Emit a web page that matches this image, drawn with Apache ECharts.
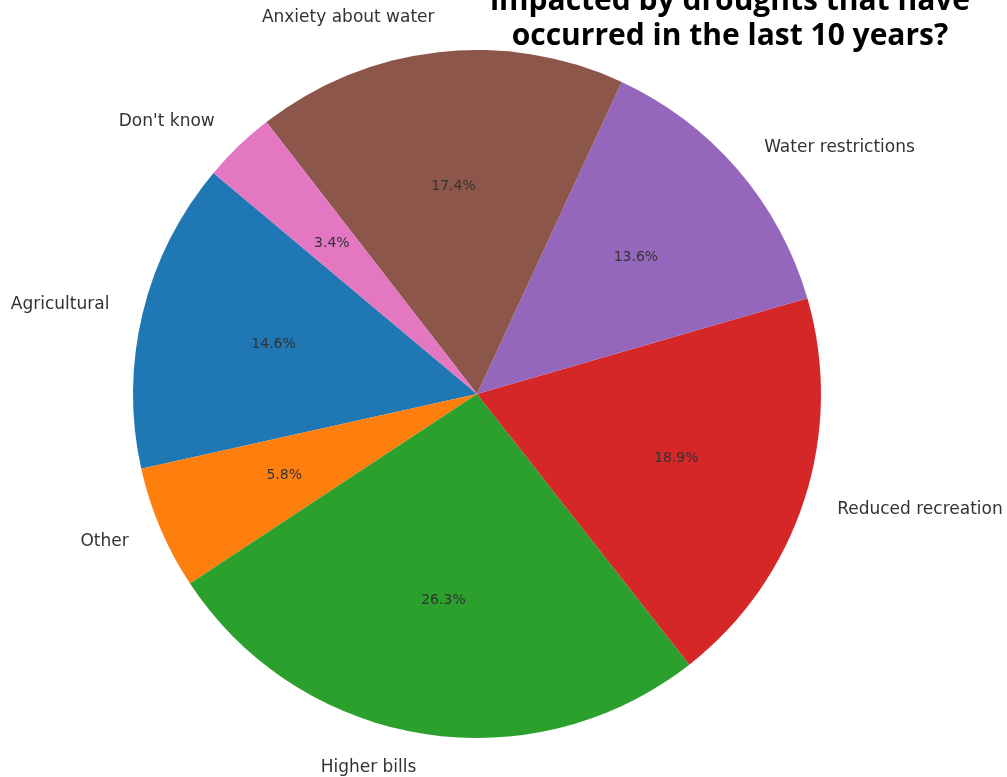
<!DOCTYPE html>
<html>
<head>
<meta charset="utf-8">
<script src="https://cdn.jsdelivr.net/npm/echarts@6/dist/echarts.min.js"></script>
<style>
  html, body { margin: 0; padding: 0; background: #fff; }
  #chart { width: 1007px; height: 777px; }
</style>
</head>
<body>
<div id="chart"></div>
<script>
// Drought impacts, share of responses (%)
const categories = ['Agricultural', 'Other', 'Higher bills', 'Reduced recreation', 'Water restrictions', 'Anxiety about water', "Don't know"];
const shares = [14.6, 5.8, 26.3, 18.9, 13.6, 17.4, 3.4];
const sliceColors = ['#1f77b4', '#ff7f0e', '#2ca02c', '#d62728', '#9467bd', '#8c564b', '#e377c2'];
const titleLines = ['impacted by droughts that have', 'occurred in the last 10 years?'];

const R = 344;            // pie radius in px
const CENTER = [477, 394];

const pieData = categories.map((name, i) => ({
  name,
  value: shares[i],
  itemStyle: { color: sliceColors[i] }
}));

const chart = echarts.init(document.getElementById('chart'), null, { renderer: 'canvas' });

chart.setOption({
  animation: false,
  backgroundColor: '#ffffff',
  title: {
    text: titleLines.join('\n'),
    left: 725,
    top: -21,
    textAlign: 'center',
    textStyle: {
      fontFamily: 'Open Sans',
      fontWeight: 'bold',
      fontSize: 30,
      lineHeight: 35,
      color: '#000'
    }
  },
  series: [
    {
      // slices with category names placed just outside the rim
      type: 'pie',
      center: CENTER,
      radius: [0, R],
      startAngle: 140,
      clockwise: false,
      avoidLabelOverlap: false,
      silent: true,
      data: pieData,
      label: {
        show: true,
        position: 'outside',
        formatter: '{b}',
        fontFamily: 'DejaVu Sans',
        fontSize: 17,
        color: '#333',
        distanceToLabelLine: 0
      },
      labelLine: { show: false, length: R * 0.1, length2: 0 }
    },
    {
      // transparent ring whose midline sits at 0.6 R, carrying the percentages
      type: 'pie',
      center: CENTER,
      radius: [R * 0.2, R],
      startAngle: 140,
      clockwise: false,
      avoidLabelOverlap: false,
      silent: true,
      data: categories.map((name, i) => ({ name, value: shares[i] })),
      itemStyle: { color: 'rgba(0,0,0,0)' },
      label: {
        show: true,
        position: 'inside',
        formatter: p => p.value.toFixed(1) + '%',
        fontFamily: 'DejaVu Sans',
        fontSize: 14,
        color: '#333',
        textBorderWidth: 0
      },
      labelLine: { show: false }
    }
  ]
});
</script>
</body>
</html>
